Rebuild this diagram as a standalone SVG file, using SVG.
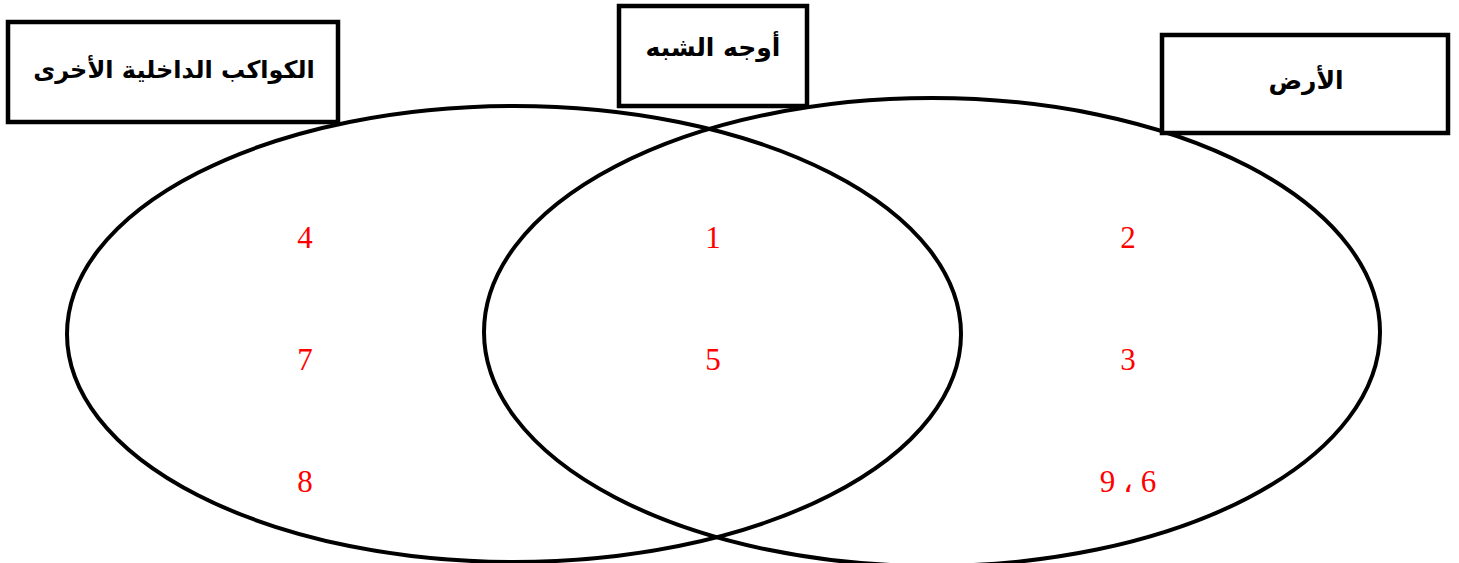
<svg xmlns="http://www.w3.org/2000/svg" width="1459" height="563" viewBox="0 0 1459 563">
<style>
.ell{fill:none;stroke:#000;stroke-width:4}
.box{fill:#fff;stroke:#000;stroke-width:4.5}
.lbl{font-family:"DejaVu Sans","Noto Sans",sans-serif;font-weight:bold;font-size:25px;fill:#000;text-anchor:middle}
.num{font-family:"Liberation Serif","DejaVu Sans",serif;font-size:31px;fill:#ff0000;text-anchor:middle}
</style>
<rect width="1459" height="563" fill="#fff"/>
<g id="connectors">
<ellipse class="ell" cx="514" cy="334" rx="447" ry="228"/>
<ellipse class="ell" cx="932" cy="332" rx="448" ry="234"/>
</g>
<g id="node-left">
<rect class="box" x="8" y="22" width="330" height="100"/>
<text class="lbl" x="174" y="78" style="font-size:24px">الكواكب الداخلية الأخرى</text>
</g>
<g id="node-mid">
<rect class="box" x="619" y="6" width="188" height="100"/>
<text class="lbl" x="713" y="56">أوجه الشبه</text>
</g>
<g id="node-right">
<rect class="box" x="1162" y="35" width="286" height="98"/>
<text class="lbl" x="1306" y="89">الأرض</text>
</g>
<g id="numbers">
<text class="num" x="305" y="248">4</text>
<text class="num" x="305" y="370">7</text>
<text class="num" x="305" y="492">8</text>
<text class="num" x="713" y="248">1</text>
<text class="num" x="713" y="370">5</text>
<text class="num" x="1128" y="248">2</text>
<text class="num" x="1128" y="370">3</text>
<text class="num" x="1128" y="492" direction="ltr">9 ، 6</text>
</g>
</svg>
